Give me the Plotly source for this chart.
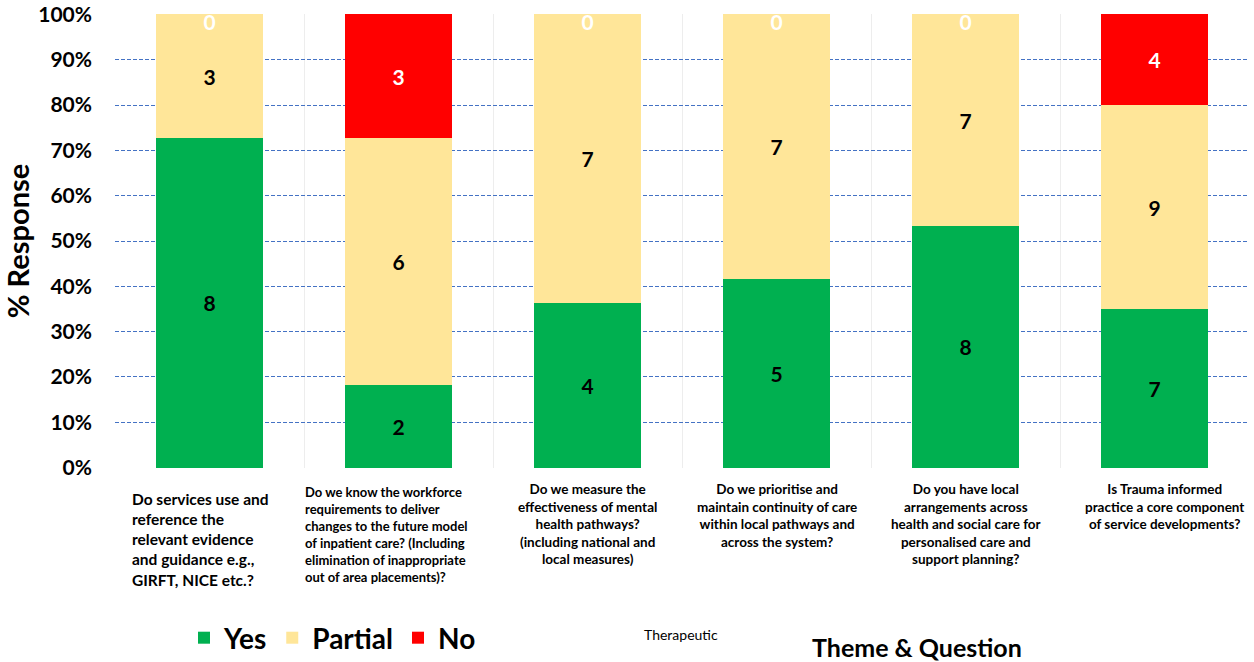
import plotly.graph_objects as go

categories = ["Q1", "Q2", "Q3", "Q4", "Q5", "Q6"]
cat_labels = [
    "Do services use and<br>reference the<br>relevant evidence<br>and guidance e.g.,<br>GIRFT, NICE etc.?",
    "Do we know the workforce<br>requirements to deliver<br>changes to the future model<br>of inpatient care? (Including<br>elimination of inappropriate<br>out of area placements)?",
    "Do we measure the<br>effectiveness of mental<br>health pathways?<br>(including national and<br>local measures)",
    "Do we prioritise and<br>maintain continuity of care<br>within local pathways and<br>across the system?",
    "Do you have local<br>arrangements across<br>health and social care for<br>personalised care and<br>support planning?",
    "Is Trauma informed<br>practice a core component<br>of service developments?",
]
yes_counts = [8, 2, 4, 5, 8, 7]
partial_counts = [3, 6, 7, 7, 7, 9]
no_counts = [0, 3, 0, 0, 0, 4]
y_ticks = [0, 0.1, 0.2, 0.3, 0.4, 0.5, 0.6, 0.7, 0.8, 0.9, 1.0]
y_tick_text = ["0%", "10%", "20%", "30%", "40%", "50%", "60%", "70%", "80%", "90%", "100%"]

totals = [a + b + c for a, b, c in zip(yes_counts, partial_counts, no_counts)]
yes_pct = [a / t for a, t in zip(yes_counts, totals)]
partial_pct = [a / t for a, t in zip(partial_counts, totals)]
no_pct = [a / t for a, t in zip(no_counts, totals)]

FONT = "Lato, 'Open Sans', sans-serif"
GREEN = "#00B050"
BEIGE = "#FFE699"
RED = "#FF0000"

fig = go.Figure()
for name, pct, cnt, col, tcol in [
    ("Yes", yes_pct, yes_counts, GREEN, "black"),
    ("Partial", partial_pct, partial_counts, BEIGE, "black"),
    ("No", no_pct, no_counts, RED, "white"),
]:
    fig.add_trace(go.Bar(
        name=name, x=categories, y=pct, customdata=cnt,
        marker=dict(color=col, line=dict(width=0)),
        text=[str(c) for c in cnt], texttemplate="%{text}",
        textposition="inside", insidetextanchor="middle", textangle=0,
        insidetextfont=dict(family=FONT, size=21, color=tcol, weight="bold"),
        hoverinfo="skip",
    ))

# zero labels for "No" at the top of the stack
zx = [c for c, n in zip(categories, no_counts) if n == 0]
zy = [(y + p + n) for y, p, n, c in zip(yes_pct, partial_pct, no_pct, no_counts) if c == 0]
fig.add_trace(go.Scatter(
    x=zx, y=zy, mode="text", text=["0"] * len(zx), textposition="bottom center",
    textfont=dict(family=FONT, size=21, color="white", weight="bold"),
    showlegend=False, cliponaxis=True, hoverinfo="skip",
))

# category labels
for i, (c, lab) in enumerate(zip(categories, cat_labels)):
    if i == 0:
        fig.add_annotation(x=c, xref="x", xshift=-80, y=-0.045, yref="paper",
                           text=lab, showarrow=False, xanchor="left", yanchor="top",
                           align="left", font=dict(family=FONT, size=15.5, color="black", weight="bold"))
    elif i == 1:
        fig.add_annotation(x=c, xref="x", xshift=-96, y=-0.03, yref="paper",
                           text=lab, showarrow=False, xanchor="left", yanchor="top",
                           align="left", font=dict(family=FONT, size=13, color="black", weight="bold"))
    else:
        fig.add_annotation(x=c, xref="x", xshift=(10 if i == 5 else 0), y=-0.025, yref="paper",
                           text=lab, showarrow=False, xanchor="center", yanchor="top",
                           align="center", font=dict(family=FONT, size=13.5, color="black", weight="bold"))

fig.add_annotation(x=(681 - 115) / 1134, xref="paper", y=(468 - 634) / 454, yref="paper",
                   text="Therapeutic", showarrow=False, xanchor="center", yanchor="middle",
                   font=dict(family=FONT, size=14, color="black"))
fig.add_annotation(x=(917 - 115) / 1134, xref="paper", y=(468 - 647) / 454, yref="paper",
                   text="Theme &amp; Question", showarrow=False, xanchor="center", yanchor="middle",
                   font=dict(family=FONT, size=25, color="black", weight="bold"))

fig.update_layout(
    barmode="stack", bargap=0.43,
    width=1254, height=662,
    margin=dict(l=115, r=5, t=14, b=194, autoexpand=False),
    paper_bgcolor="white", plot_bgcolor="white",
    font=dict(family=FONT, color="black"),
    legend=dict(orientation="h", x=(184 - 115) / 1134, xanchor="left",
                y=(468 - 638) / 454, yanchor="middle", traceorder="normal",
                font=dict(family=FONT, size=28, color="black", weight="bold"),
                itemclick=False, bgcolor="rgba(0,0,0,0)"),
    xaxis=dict(showticklabels=False, tickson="boundaries", showgrid=True,
               gridcolor="#EDEDED", gridwidth=1, ticks="", showline=False, zeroline=False,
               range=[-0.5, 5.5], automargin=False),
    yaxis=dict(range=[-0.001, 1.001], tickvals=y_ticks, ticktext=y_tick_text,
               tickfont=dict(family=FONT, size=21, color="black", weight="bold"),
               ticklabelstandoff=22, automargin=False,
               showgrid=True, gridcolor="#4472C4", gridwidth=1, griddash="4px,2px",
               zeroline=False, showline=False,
               title=dict(text="% Response", standoff=4,
                          font=dict(family=FONT, size=29, color="black", weight="bold"))),
)

fig.write_html("out.html")
